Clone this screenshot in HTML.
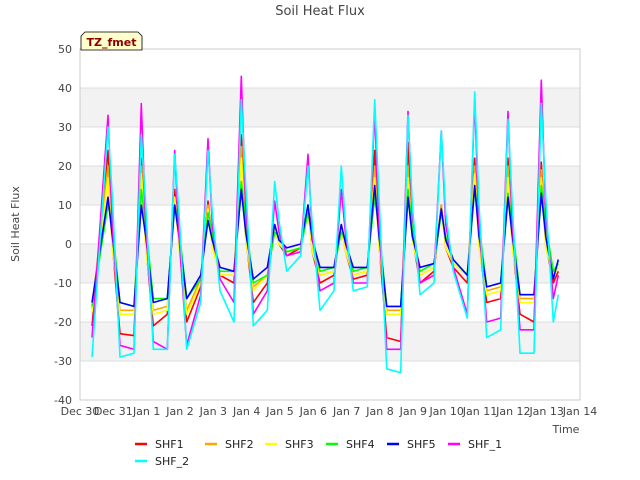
<!DOCTYPE html>
<html><head><meta charset="utf-8"><style>
body{margin:0;background:#fff;}
svg{display:block;font-family:"DejaVu Sans","Liberation Sans",sans-serif;}
</style></head><body>
<svg id="chart" width="640" height="480" viewBox="0 0 640 480">
<text x="320" y="15" text-anchor="middle" font-size="13" fill="#444">Soil Heat Flux</text>
<text x="19" y="224" text-anchor="middle" font-size="11" fill="#444" transform="rotate(-90 19 224)">Soil Heat Flux</text>
<text x="566" y="433" text-anchor="middle" font-size="11" fill="#444">Time</text>
<g id="bands"></g>
<g id="yticks"></g>
<g id="xticks"></g>
<g id="series"></g>
<rect x="80" y="49" width="500" height="351" fill="none" stroke="#ccc"/>
<g>
<path d="M81,50 L81,36 L85,32 L138,32 L142,36 L142,50 Z" fill="#ffffcc" stroke="#000" stroke-width="0.8"/>
<text x="111.5" y="46" text-anchor="middle" font-size="11" font-weight="bold" fill="#8b0000">TZ_fmet</text>
</g>
<g id="legend"></g>
</svg>
<script>
const yTicks=[50,40,30,20,10,0,-10,-20,-30,-40];
const xTickLabels=["Dec 30","Dec 31","Jan 1","Jan 2","Jan 3","Jan 4","Jan 5","Jan 6","Jan 7","Jan 8","Jan 9","Jan 10","Jan 11","Jan 12","Jan 13","Jan 14"];
// time in days since Dec 30
const times=[0.36,
0.84,0.97,1.2,1.62, 1.84,1.97,2.2,2.62, 2.84,2.97,3.2,3.62, 3.84,3.97,4.2,4.62,
4.84,4.97,5.2,5.62, 5.84,5.97,6.2,6.62, 6.84,6.97,7.2,7.62, 7.84,7.97,8.2,8.62,
8.84,8.97,9.2,9.62, 9.84,9.97,10.2,10.62, 10.84,10.97,11.2,11.62, 11.84,11.97,12.2,12.62,
12.84,12.97,13.2,13.62, 13.84,13.97,14.2,14.35];
const shf1=[-21,24,0,-23,-23.5,22,0,-21,-18,14,0,-20,-11,11,0,-8,-10,28,2,-15,-10,5,0,-3,-1,10,-2,-10,-8,5,-2,-9,-8,24,0,-24,-25,26,2,-10,-7,10,-1,-6,-10,22,0,-15,-14,22,0,-18,-20,21,0,-10,-7];
const shf2=[-16.5,20,0,-17,-17,20,0,-17,-16,12,0,-17,-9,10,0,-8,-8,25,2,-11,-8,4,0,-2,-1,9,-2,-8,-7,4,-2,-8,-7,20,0,-17,-17,20,2,-8,-6,10,-1,-5,-8,20,0,-12,-11,20,0,-14,-14,19,0,-8,-6];
const shf3=[-17.5,17,-1,-18,-18,18,-1,-18,-17,12,-1,-18,-10,9,-1,-8,-8,22,1,-12,-8,4,0,-2,-1,9,-2,-8,-7,4,-2,-8,-7,17,-1,-18,-18,17,1,-8,-6,9,-1,-5,-8,18,-1,-13,-12,17,-1,-15,-15,17,-1,-8,-6];
const shf4=[-16,10,5,-15,-16,14,5,-14,-14,10,4,-14,-9,8,3,-7,-7,16,6,-10,-8,3,2,-2,-1,8,2,-7,-6,3,1,-7,-6,12,4,-16,-16,14,4,-7,-5,8,2,-4,-8,14,5,-11,-10,13,5,-13,-13,15,5,-7,-5];
const shf5=[-15,12,2,-15,-16,10,2,-15,-14,10,2,-14,-8,6,1,-6,-7,14,3,-9,-6,5,1,-1,0,10,1,-6,-6,5,0,-6,-6,15,2,-16,-16,12,2,-6,-5,9,1,-4,-8,15,2,-11,-10,12,2,-13,-13,13,2,-9,-4];
const shf_1=[-24,33,5,-26,-27,36,5,-25,-27,24,2,-26,-13,27,5,-9,-15,43,10,-18,-12,11,3,-3,-2,23,2,-12,-10,14,2,-10,-10,34,5,-27,-27,34,8,-10,-8,29,5,-6,-18,37,5,-20,-19,34,5,-22,-22,42,8,-14,-8];
const shf_2=[-29,30,12,-29,-28,28,10,-27,-27,23,8,-27,-15,24,8,-12,-20,37,15,-21,-17,16,6,-7,-3,20,5,-17,-12,20,4,-12,-11,37,12,-32,-33,33,10,-13,-10,29,8,-7,-19,39,10,-24,-22,32,10,-28,-28,36,12,-20,-13];
const seriesNames=["SHF1","SHF2","SHF3","SHF4","SHF5","SHF_1","SHF_2"];
const seriesColors=["#ff0000","#ffa500","#ffff00","#00ff00","#0000ff","#ff00ff","#00ffff"];
const seriesData=[shf1,shf2,shf3,shf4,shf5,shf_1,shf_2];

const NS="http://www.w3.org/2000/svg";
const X0=80,X1=580,Y0=400,Y1=49,vMin=-40,vMax=50,tMax=15;
function xs(t){return X0+(X1-X0)*t/tMax;}
function ys(v){return Y0-(Y0-Y1)*(v-vMin)/(vMax-vMin);}
function mk(tag,attrs,parent){const e=document.createElementNS(NS,tag);for(const k in attrs)e.setAttribute(k,attrs[k]);parent.appendChild(e);return e;}

const bands=document.getElementById('bands');
for(let i=0;i<yTicks.length-1;i++){
  if(i%2===1){
    const r=mk('rect',{x:X0,y:ys(yTicks[i]),width:X1-X0,height:ys(yTicks[i+1])-ys(yTicks[i]),fill:'#f2f2f2'},bands);
    
    
  }
}
const yg=document.getElementById('yticks');
yTicks.forEach(v=>{
  const l=mk('line',{x1:X0,x2:X1,y1:ys(v),y2:ys(v),stroke:'#ddd','stroke-width':1},yg);
  
  
  const t=mk('text',{x:72,y:ys(v)+4,'text-anchor':'end','font-size':11,fill:'#444'},yg);
  t.textContent=v;
  
  
});
const xg=document.getElementById('xticks');
xTickLabels.forEach((s,i)=>{
  const t=mk('text',{x:xs(i),y:415,'text-anchor':'middle','font-size':11,fill:'#444'},xg);
  t.textContent=s;
  
  
});
const sg=document.getElementById('series');
seriesData.forEach((arr,si)=>{
  const pts=arr.map((v,i)=>xs(times[i]).toFixed(1)+','+ys(v).toFixed(1)).join(' ');
  const p=mk('polyline',{points:pts,fill:'none',stroke:seriesColors[si],'stroke-width':1.6,'stroke-linejoin':'round'},sg);
  
  
});
const lg=document.getElementById('legend');
const legPos=[[135,444],[205,444],[265,444],[326,444],[387,444],[448,444],[135,461]];
seriesNames.forEach((n,i)=>{
  const [x,y]=legPos[i];
  const g=mk('g',{},lg);
  
  
  mk('line',{x1:x,x2:x+12,y1:y,y2:y,stroke:seriesColors[i],'stroke-width':2.5},g);
  const t=mk('text',{x:x+20,y:y+4,'font-size':11,fill:'#222'},g);
  t.textContent=n;
});
</script>
</body></html>
